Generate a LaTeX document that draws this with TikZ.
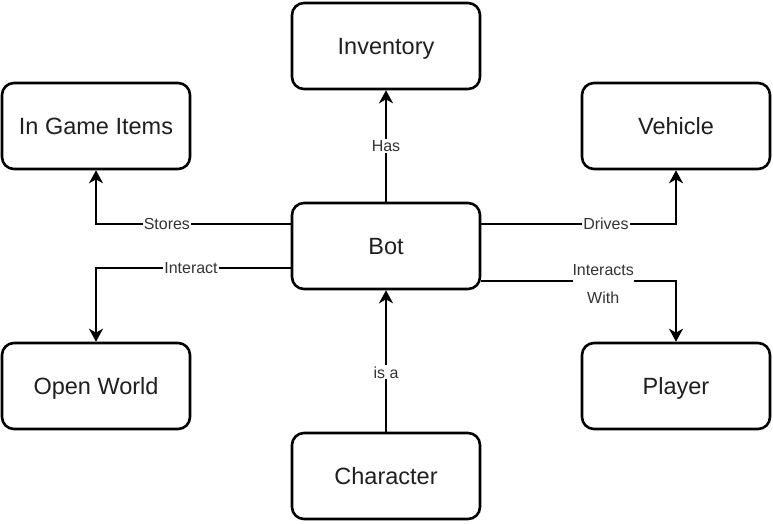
\documentclass[tikz,border=0pt]{standalone}
\usepackage{fontspec}
\setmainfont{Liberation Sans}
\usetikzlibrary{arrows.meta}
\tikzset{
  box/.style={draw=black, line width=2.6pt, rounded corners=12pt, fill=white,
    minimum width=188pt, minimum height=86pt, inner sep=0pt,
    font=\fontsize{23.5}{27}\selectfont, text=black!88, text depth=0pt},
  conn/.style={line width=2.6pt, -{Stealth[length=13pt,width=14pt,inset=4pt]}},
  lbl/.style={fill=white, inner sep=1pt, font=\fontsize{16}{18}\selectfont, text=black!80},
}
\begin{document}
\begin{tikzpicture}[x=1pt,y=1pt]
\useasboundingbox (0,0) rectangle (773,-523);
\node[box] (inv) at (386,-46) {Inventory};
\node[box] (items) at (96,-126) {In Game Items};
\node[box] (veh) at (676,-126) {Vehicle};
\node[box] (bot) at (386,-246) {Bot};
\node[box] (ow) at (96,-386) {Open World};
\node[box] (pl) at (676,-386) {Player};
\node[box] (ch) at (386,-476) {Character};

\draw[conn] (bot.north) -- node[lbl] (lhas) {Has} (inv.south);
\draw[conn] (ch.north) -- node[lbl, pos=0.42] (lisa) {is a} (bot.south);
\draw[conn] ([yshift=22pt]bot.west) -| node[lbl, pos=0.318] (lst) {Stores} (items.south);
\draw[conn] ([yshift=-22pt]bot.west) -| node[lbl, pos=0.256] (lint) {Interact} (ow.north);
\draw[conn] ([yshift=22pt]bot.east) -| node[lbl, pos=0.32] (ldr) {Drives} (veh.south);
\draw[conn] ([yshift=-35pt]bot.east) -| node[lbl, pos=0.313, yshift=-3pt, align=center, inner xsep=0pt, font=\fontsize{16}{28}\selectfont] (liw) {Interacts\\With} (pl.north);
\end{tikzpicture}
\end{document}
